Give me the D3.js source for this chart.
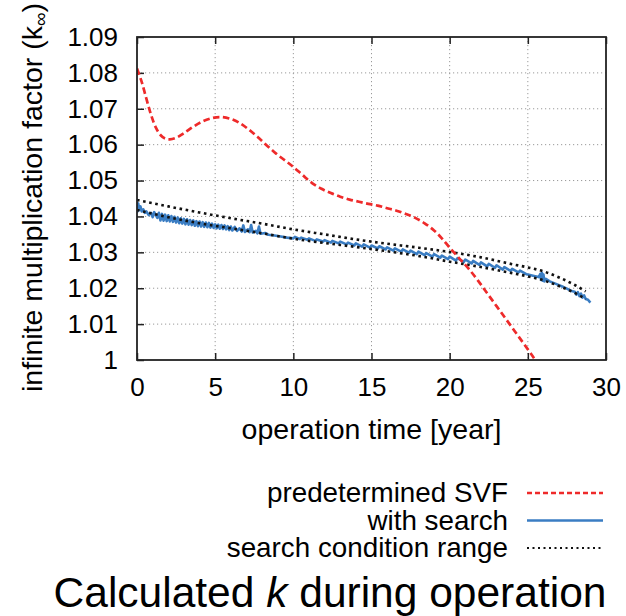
<!DOCTYPE html>
<html>
<head>
<meta charset="utf-8">
<script src="https://cdn.jsdelivr.net/npm/d3@7"></script>
<style>
  html, body { margin: 0; padding: 0; background: #fff; }
  svg { display: block; font-family: "Liberation Sans", Arial, Helvetica, sans-serif; }
</style>
</head>
<body>
<svg id="chart" width="626" height="616"></svg>
<script>
// Axis ticks
const xTicks = [0, 5, 10, 15, 20, 25, 30];
const yTicks = [1, 1.01, 1.02, 1.03, 1.04, 1.05, 1.06, 1.07, 1.08, 1.09];
const yTickLabels = ["1", "1.01", "1.02", "1.03", "1.04", "1.05", "1.06", "1.07", "1.08", "1.09"];

// Series: [operation time (year), k-infinity]
const predeterminedSVF = [
  [0.0, 1.0812], [0.3, 1.0775], [0.6, 1.0728], [0.9, 1.0683], [1.2, 1.0648],
  [1.5, 1.0627], [1.8, 1.0617], [2.1, 1.0615], [2.5, 1.0619], [3.0, 1.0632],
  [3.6, 1.0650], [4.2, 1.0665], [4.8, 1.0674], [5.3, 1.0677], [5.9, 1.0673],
  [6.5, 1.0662], [7.1, 1.0644], [7.7, 1.0622], [8.3, 1.0598], [8.9, 1.0575],
  [9.5, 1.0555], [10.0, 1.0538], [10.6, 1.0515], [11.2, 1.0493], [11.8, 1.0477],
  [12.4, 1.0465], [13.0, 1.0455], [13.6, 1.0447], [14.2, 1.0441], [14.8, 1.0435],
  [15.4, 1.0430], [16.0, 1.0423], [16.6, 1.0416], [17.2, 1.0407], [17.8, 1.0396],
  [18.4, 1.0381], [19.0, 1.0361], [19.5, 1.0339], [20.0, 1.0313], [20.6, 1.0284],
  [21.2, 1.0255], [21.8, 1.0222], [22.4, 1.0186], [23.0, 1.0150], [23.6, 1.0114],
  [24.2, 1.0078], [24.8, 1.0042], [25.4, 1.0005], [25.8, 0.9980]
];

const withSearch = [
  [0.00, 1.0440], [0.04, 1.0414], [0.08, 1.0436], [0.14, 1.0418], [0.22, 1.0428],
  [0.30, 1.0414], [0.40, 1.0420], [0.50, 1.0410], [0.60, 1.0414], [0.75, 1.0404],
  [0.90, 1.0410], [1.00, 1.0398], [1.10, 1.0412], [1.30, 1.0396], [1.40, 1.0410],
  [1.50, 1.0389], [1.60, 1.0407], [1.70, 1.0388], [1.80, 1.0405], [1.90, 1.0387],
  [2.00, 1.0403], [2.10, 1.0386], [2.20, 1.0401], [2.30, 1.0385], [2.40, 1.0399],
  [2.50, 1.0383], [2.60, 1.0397], [2.70, 1.0381], [2.80, 1.0395], [2.90, 1.0380],
  [3.00, 1.0393], [3.10, 1.0378], [3.20, 1.0392], [3.30, 1.0377], [3.40, 1.0390],
  [3.50, 1.0376], [3.60, 1.0389], [3.70, 1.0374], [3.80, 1.0387], [3.90, 1.0373],
  [4.00, 1.0386], [4.10, 1.0372], [4.20, 1.0384], [4.30, 1.0371], [4.40, 1.0383],
  [4.50, 1.0370], [4.60, 1.0382], [4.70, 1.0369], [4.80, 1.0380], [4.90, 1.0368],
  [5.00, 1.0378], [5.10, 1.0367], [5.20, 1.0377], [5.30, 1.0366], [5.40, 1.0376],
  [5.50, 1.0365], [5.60, 1.0375], [5.70, 1.0364], [5.80, 1.0373], [5.90, 1.0362],
  [6.00, 1.0372], [6.10, 1.0361], [6.25, 1.0371], [6.40, 1.0360], [6.55, 1.0367],
  [6.70, 1.0358], [6.80, 1.0375], [6.90, 1.0357], [7.10, 1.0364], [7.20, 1.0356],
  [7.30, 1.0376], [7.40, 1.0355], [7.60, 1.0360], [7.70, 1.0353], [7.80, 1.0372],
  [7.90, 1.0352], [8.20, 1.0354], [8.40, 1.0349], [8.80, 1.0347], [9.20, 1.0344],
  [9.60, 1.0341], [10.00, 1.0339], [10.10, 1.0343], [10.40, 1.0337], [10.50, 1.0341],
  [10.90, 1.0335], [11.00, 1.0339], [11.40, 1.0332], [11.50, 1.0336], [11.90, 1.0330],
  [12.00, 1.0334], [12.40, 1.0327], [12.50, 1.0332], [12.90, 1.0325], [13.00, 1.0330],
  [13.40, 1.0322], [13.50, 1.0327], [13.90, 1.0319], [14.00, 1.0325], [14.40, 1.0316],
  [14.50, 1.0322], [14.90, 1.0313], [15.00, 1.0319], [15.40, 1.0311], [15.50, 1.0317],
  [15.90, 1.0308], [16.00, 1.0314], [16.40, 1.0305], [16.50, 1.0311], [16.90, 1.0302],
  [17.00, 1.0308], [17.40, 1.0299], [17.50, 1.0305], [17.90, 1.0295], [18.00, 1.0302],
  [18.40, 1.0292], [18.50, 1.0298], [18.90, 1.0288], [19.00, 1.0295], [19.40, 1.0285],
  [19.50, 1.0291], [19.90, 1.0281], [20.00, 1.0288], [20.40, 1.0277], [20.50, 1.0284],
  [20.90, 1.0273], [21.00, 1.0280], [21.40, 1.0269], [21.50, 1.0276], [21.90, 1.0265],
  [22.00, 1.0272], [22.40, 1.0261], [22.50, 1.0268], [22.90, 1.0257], [23.00, 1.0264],
  [23.40, 1.0252], [23.50, 1.0259], [23.90, 1.0248], [24.00, 1.0254], [24.40, 1.0244],
  [24.50, 1.0249], [24.90, 1.0239], [25.00, 1.0238], [25.40, 1.0234], [25.70, 1.0231],
  [25.80, 1.0240], [25.85, 1.0223], [25.90, 1.0243], [25.95, 1.0221], [26.00, 1.0238],
  [26.05, 1.0219], [26.15, 1.0226], [26.40, 1.0219], [26.80, 1.0212], [27.20, 1.0205],
  [27.50, 1.0199], [27.80, 1.0192], [28.00, 1.0190], [28.10, 1.0182], [28.20, 1.0189],
  [28.30, 1.0178], [28.40, 1.0185], [28.50, 1.0174], [28.60, 1.0180], [28.70, 1.0170],
  [28.85, 1.0168], [29.00, 1.0160]
];

const rangeUpper = [
  [0, 1.0446], [2, 1.0428], [4, 1.0411], [6, 1.0395], [8, 1.0380], [10, 1.0364],
  [12, 1.0350], [14, 1.0336], [16, 1.0324], [18, 1.0313], [20, 1.0301], [22, 1.0286],
  [24, 1.0267], [25, 1.0258], [26, 1.0247], [27, 1.0230], [28, 1.0209], [28.7, 1.0191]
];

const rangeLower = [
  [0, 1.0418], [2, 1.0398], [4, 1.0381], [6, 1.0367], [8, 1.0353], [10, 1.0338],
  [12, 1.0326], [14, 1.0315], [16, 1.0303], [18, 1.0290], [20, 1.0274], [22, 1.0259],
  [24, 1.0242], [25, 1.0233], [26, 1.0222], [27, 1.0206], [28, 1.0187], [28.7, 1.0170]
];

const legendLabels = ["predetermined SVF", "with search", "search condition range"];

// Layout
const plot = { left: 137, right: 606, top: 37, bottom: 360 };
const colors = { red: "#ee2a2a", blue: "#3a7dc3", black: "#111" };

const svg = d3.select("#chart");
const x = d3.scaleLinear().domain([0, 30]).range([plot.left, plot.right]);
const y = d3.scaleLinear().domain([1, 1.09]).range([plot.bottom, plot.top]);

// Dotted grid
const grid = svg.append("g").attr("stroke", "#9a9a9a").attr("stroke-width", 1)
  .attr("stroke-dasharray", "1.2,2.8");
grid.selectAll("line.gx").data(xTicks.slice(1, -1)).join("line")
  .attr("x1", d => x(d)).attr("x2", d => x(d))
  .attr("y1", plot.top).attr("y2", plot.bottom);
grid.selectAll("line.gy").data(yTicks.slice(1, -1)).join("line")
  .attr("x1", plot.left).attr("x2", plot.right)
  .attr("y1", d => y(d)).attr("y2", d => y(d));

// Axes with inward ticks
const tickStyle = g => {
  g.select(".domain").remove();
  g.selectAll(".tick line").attr("stroke", "#222").attr("stroke-width", 1.5);
  g.selectAll(".tick text").attr("fill", "#000")
    .style("font-family", "'Liberation Sans', Arial, sans-serif").style("font-size", "26px");
};

svg.append("g").attr("transform", `translate(0,${plot.bottom})`)
  .call(d3.axisBottom(x).tickValues(xTicks).tickSizeInner(-7).tickSizeOuter(0).tickPadding(18))
  .call(tickStyle)
  .call(g => g.selectAll(".tick text").attr("dy", "0.71em"));

svg.append("g").attr("transform", `translate(0,${plot.top})`)
  .call(d3.axisTop(x).tickValues(xTicks).tickSizeInner(-7).tickSizeOuter(0).tickFormat(""))
  .call(tickStyle);

svg.append("g").attr("transform", `translate(${plot.left},0)`)
  .call(d3.axisLeft(y).tickValues(yTicks).tickSizeInner(-7).tickSizeOuter(0)
    .tickPadding(19).tickFormat((d, i) => yTickLabels[i]))
  .call(tickStyle);

// Series
svg.append("defs").append("clipPath").attr("id", "plot-clip")
  .append("rect").attr("x", plot.left).attr("y", plot.top)
  .attr("width", plot.right - plot.left).attr("height", plot.bottom - plot.top);

const line = d3.line().x(d => x(d[0])).y(d => y(d[1]));
const lineSmooth = d3.line().x(d => x(d[0])).y(d => y(d[1])).curve(d3.curveMonotoneX);
const series = svg.append("g").attr("clip-path", "url(#plot-clip)").attr("fill", "none");

series.append("path").datum(withSearch).attr("d", line)
  .attr("stroke", colors.blue).attr("stroke-width", 2.6).attr("stroke-linejoin", "round");
series.append("path").datum(rangeUpper).attr("d", lineSmooth)
  .attr("stroke", colors.black).attr("stroke-width", 2.6).attr("stroke-dasharray", "2.6,3.6");
series.append("path").datum(rangeLower).attr("d", lineSmooth)
  .attr("stroke", colors.black).attr("stroke-width", 2.6).attr("stroke-dasharray", "2.6,3.6");
series.append("path").datum(predeterminedSVF).attr("d", d3.line().x(d => x(d[0])).y(d => y(d[1])).curve(d3.curveCatmullRom))
  .attr("stroke", colors.red).attr("stroke-width", 2.7).attr("stroke-dasharray", "6.5,3.5");

// Frame
svg.append("rect").attr("x", plot.left).attr("y", plot.top)
  .attr("width", plot.right - plot.left).attr("height", plot.bottom - plot.top)
  .attr("fill", "none").attr("stroke", "#222").attr("stroke-width", 1.8);

// Axis titles
svg.append("text").attr("x", (plot.left + plot.right) / 2).attr("y", 439)
  .attr("text-anchor", "middle").style("font-size", "28.5px").text("operation time [year]");

const yTitle = svg.append("text").attr("transform", "translate(42,392) rotate(-90)")
  .attr("text-anchor", "start").style("font-size", "28.5px");
yTitle.append("tspan").text("infinite multiplication factor (k");
yTitle.append("tspan").attr("dy", 5).style("font-size", "19px").text("∞");
yTitle.append("tspan").attr("dy", -5).text(")");

// Legend
const legend = svg.append("g");
const legendStyles = [
  { stroke: colors.red, width: 2.3, dash: "5,3" },
  { stroke: colors.blue, width: 2.3, dash: null },
  { stroke: colors.black, width: 2.2, dash: "2,3.5" }
];
legendLabels.forEach((label, i) => {
  const by = 502 + i * 27.5;
  legend.append("text").attr("x", 508).attr("y", by).attr("text-anchor", "end")
    .style("font-size", "27.8px").text(label);
  legend.append("line").attr("x1", 527).attr("x2", 603)
    .attr("y1", by - 9).attr("y2", by - 9)
    .attr("stroke", legendStyles[i].stroke).attr("stroke-width", legendStyles[i].width)
    .attr("stroke-dasharray", legendStyles[i].dash);
});

// Caption
const caption = svg.append("text").attr("x", 330).attr("y", 607)
  .attr("text-anchor", "middle").style("font-size", "42.5px");
caption.append("tspan").text("Calculated ");
caption.append("tspan").style("font-style", "italic").text("k");
caption.append("tspan").text(" during operation");
</script>
</body>
</html>
